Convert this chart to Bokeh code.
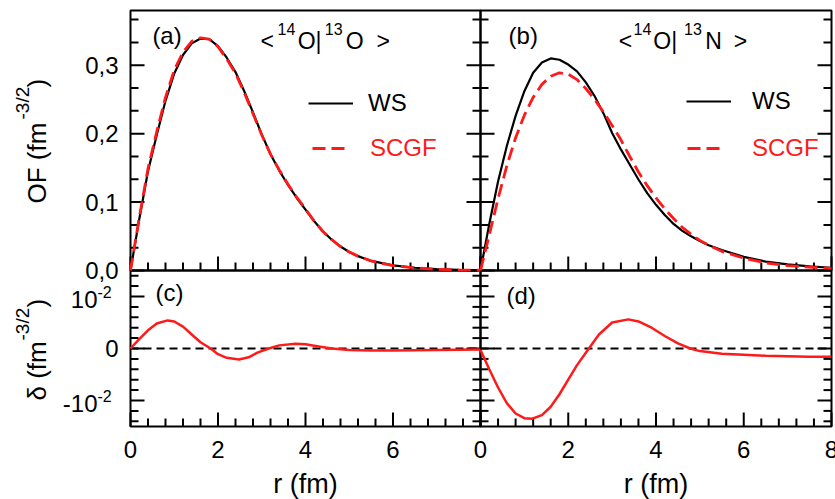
import numpy as np
from bokeh.plotting import figure
from bokeh.models import Range1d, Label, Legend, LegendItem
from bokeh.core.properties import value
from bokeh.embed import file_html
from bokeh.resources import INLINE

FONT = "Liberation Sans"

# ---- overlap functions OF(r) ----
r_of = [0.0, 0.2, 0.4, 0.6, 0.8, 1.0, 1.2, 1.4, 1.6, 1.8, 2.0, 2.2, 2.4, 2.6, 2.8,
        3.0, 3.2, 3.4, 3.6, 3.8, 4.0, 4.2, 4.4, 4.6, 4.8, 5.0, 5.2, 5.5, 6.0, 6.5,
        7.0, 7.5, 8.0]

# <14O|13O>
ws_o = [0.000, 0.075, 0.145, 0.198, 0.248, 0.288, 0.315, 0.332, 0.339, 0.338, 0.328,
        0.311, 0.290, 0.262, 0.231, 0.199, 0.170, 0.146, 0.125, 0.106, 0.089, 0.072,
        0.057, 0.045, 0.035, 0.027, 0.021, 0.014, 0.0075, 0.004, 0.002, 0.001, 0.0005]
scgf_o = [0.000, 0.077, 0.149, 0.203, 0.253, 0.293, 0.319, 0.335, 0.340, 0.338, 0.327,
          0.309, 0.288, 0.260, 0.229, 0.198, 0.170, 0.147, 0.126, 0.107, 0.090, 0.072,
          0.057, 0.045, 0.035, 0.027, 0.021, 0.014, 0.0072, 0.0037, 0.0018, 0.0009, 0.0004]

# <14O|13N>
ws_n = [0.000, 0.068, 0.130, 0.182, 0.226, 0.262, 0.289, 0.304, 0.310, 0.308, 0.301,
        0.291, 0.275, 0.255, 0.230, 0.201, 0.177, 0.155, 0.133, 0.113, 0.096, 0.081,
        0.068, 0.058, 0.050, 0.043, 0.037, 0.030, 0.020, 0.013, 0.009, 0.006, 0.004]
scgf_n = [0.000, 0.052, 0.105, 0.153, 0.194, 0.227, 0.253, 0.272, 0.284, 0.289, 0.287,
          0.279, 0.266, 0.250, 0.232, 0.212, 0.191, 0.167, 0.144, 0.124, 0.106, 0.090,
          0.076, 0.063, 0.053, 0.044, 0.037, 0.028, 0.018, 0.011, 0.007, 0.005, 0.003]

# ---- differences delta(r) ----
r_dc = [0.0, 0.2, 0.4, 0.6, 0.85, 1.0, 1.2, 1.4, 1.6, 1.83, 2.0, 2.2, 2.48, 2.7, 2.9,
        3.16, 3.4, 3.77, 4.0, 4.3, 4.6, 5.0, 5.5, 6.0, 7.0, 8.0]
delta_o = [0.0, 0.0018, 0.0035, 0.0048, 0.0054, 0.0052, 0.0042, 0.0027, 0.0012, 0.0,
           -0.0011, -0.0018, -0.0021, -0.0017, -0.0008, 0.0, 0.0006, 0.0009, 0.0008,
           0.0004, 0.0, -0.0003, -0.0004, -0.0004, -0.0003, -0.0002]

r_dd = [0.0, 0.2, 0.4, 0.6, 0.8, 1.0, 1.18, 1.4, 1.6, 1.8, 2.0, 2.2, 2.47, 2.7, 3.0,
        3.37, 3.6, 3.9, 4.2, 4.5, 4.78, 5.0, 5.5, 6.0, 6.5, 7.0, 7.5, 8.0]
delta_n = [-0.0003, -0.004, -0.0075, -0.0105, -0.0125, -0.0134, -0.0135, -0.0128,
           -0.0112, -0.0088, -0.0060, -0.0032, 0.0, 0.0027, 0.0050, 0.0056, 0.0052,
           0.0040, 0.0024, 0.0010, 0.0, -0.0005, -0.0010, -0.0012, -0.0014, -0.0015,
           -0.0016, -0.0016]

# ---- ticks and tick labels ----
x_major = [0, 2, 4, 6, 8]
x_minor = [0.4 * k for k in range(1, 20) if k % 5]
x_labels = ["0", "2", "4", "6", "8"]
of_major = [0.0, 0.1, 0.2, 0.3]
of_minor = [k / 30 for k in range(1, 12) if k % 3]
of_labels = ["0,0", "0,1", "0,2", "0,3"]
d_major = [-0.01, 0.0, 0.01]
d_minor = [0.002 * k for k in range(-7, 8) if k % 5]
d_labels = ["-10", "0", "10"]          # mantissa part
d_exponents = ["-2", "", "-2"]         # superscript part

X_RANGE = (0.0, 8.0)
OF_RANGE = (0.0, 0.38)
D_RANGE = (-0.015, 0.015)

WS_COLOR = "black"
SCGF_COLOR = "#ff1a1a"

# ---- page geometry (pixels) ----
PAGE_W, PAGE_H = 835, 499
COLS = {"left": (130, 480), "right": (480, 831)}          # frame x extents
ROWS = {"of": (PAGE_H - 270, PAGE_H - 10),                # frame y extents, y upward
        "delta": (PAGE_H - 426, PAGE_H - 270)}
MAJOR_LEN, MINOR_LEN = 14, 8


def page_range(a, b, dr, total):
    """Range that puts dr[0]..dr[1] on pixels a..b of a 0..total frame."""
    k = (dr[1] - dr[0]) / (b - a)
    return Range1d(dr[0] - a * k, dr[0] + (total - a) * k)


p = figure(width=PAGE_W, height=PAGE_H, x_range=Range1d(0, PAGE_W),
           y_range=Range1d(0, PAGE_H), x_axis_location=None, y_axis_location=None,
           output_backend="svg", toolbar_location=None, min_border=0)
p.grid.visible = False
p.outline_line_color = None
p.extra_x_ranges = {c: page_range(*COLS[c], X_RANGE, PAGE_W) for c in COLS}
p.extra_y_ranges = {"of": page_range(*ROWS["of"], OF_RANGE, PAGE_H),
                    "delta": page_range(*ROWS["delta"], D_RANGE, PAGE_H)}

Y_SPEC = {"of": (OF_RANGE, of_major, of_minor),
          "delta": (D_RANGE, d_major, d_minor)}
PANELS = [("left", "of"), ("right", "of"), ("left", "delta"), ("right", "delta")]


def px_x(col):
    return (X_RANGE[1] - X_RANGE[0]) / (COLS[col][1] - COLS[col][0])


def px_y(rw):
    yr = Y_SPEC[rw][0]
    return (yr[1] - yr[0]) / (ROWS[rw][1] - ROWS[rw][0])


def txt(s, x, y, size, col=None, rw=None, align="left", color="black", angle=0.0):
    """Text placed by the vertical middle of its em box."""
    kw = {}
    if col:
        kw["x_range_name"] = col
    if rw:
        kw["y_range_name"] = rw
    p.add_layout(Label(x=x, y=y, text=s, text_font=FONT, text_font_size=size,
                       text_color=color, text_align=align, text_baseline="middle",
                       angle=angle, **kw))


def texts(xs, ys, labels, size, align, names):
    p.text(x=xs, y=ys, text=labels, text_font=value(FONT), text_font_size=value(size),
           text_color="black", text_align=align, text_baseline="middle", **names)


# ---- frames and inward ticks ----
for col, rw in PANELS:
    yr, y_major, y_minor = Y_SPEC[rw]
    kx, ky = px_x(col), px_y(rw)
    names = dict(x_range_name=col, y_range_name=rw)
    p.quad(left=[X_RANGE[0]], right=[X_RANGE[1]], bottom=[yr[0]], top=[yr[1]],
           fill_color=None, line_color="black", line_width=2, **names)
    for vals, ln in ((y_major, MAJOR_LEN), (y_minor, MINOR_LEN)):
        for v in vals:
            p.line([X_RANGE[0], X_RANGE[0] + ln * kx], [v, v],
                   line_color="black", line_width=2, **names)
            p.line([X_RANGE[1], X_RANGE[1] - ln * kx], [v, v],
                   line_color="black", line_width=2, **names)
    for vals, ln in ((x_major, MAJOR_LEN), (x_minor, MINOR_LEN)):
        for v in vals:
            p.line([v, v], [yr[0], yr[0] + ln * ky],
                   line_color="black", line_width=2, **names)


# ---- curves ----
def draw_of(col, ws, scgf):
    r_ws = p.line(r_of, ws, line_color=WS_COLOR, line_width=2.2,
                  x_range_name=col, y_range_name="of")
    r_sc = p.line(r_of, scgf, line_color=SCGF_COLOR, line_width=2.8, line_dash="13 6",
                  x_range_name=col, y_range_name="of")
    return r_ws, r_sc


ws_a_r, sc_a_r = draw_of("left", ws_o, scgf_o)
ws_b_r, sc_b_r = draw_of("right", ws_n, scgf_n)

for col, r, d in (("left", r_dc, delta_o), ("right", r_dd, delta_n)):
    p.line(list(X_RANGE), [0, 0], line_color="black", line_width=2, line_dash="8 5",
           x_range_name=col, y_range_name="delta")
    p.line(r, d, line_color=SCGF_COLOR, line_width=2.5,
           x_range_name=col, y_range_name="delta")


# ---- tick labels and axis titles ----
def tick_labels(col, rw, y_labels=None, x_labels=None):
    yr, y_major, _ = Y_SPEC[rw]
    kx, ky = px_x(col), px_y(rw)
    names = dict(x_range_name=col, y_range_name=rw)
    if y_labels is not None:
        base, sup = y_labels
        if any(sup):
            # mantissa with a raised exponent
            x_end = X_RANGE[0] - 33 * kx
            texts([x_end if e else X_RANGE[0] - 12 * kx for e in sup],
                  [v - (3 * ky if e else 0) for v, e in zip(y_major, sup)],
                  base, "24px", "right", names)
            marked = [(v, e) for v, e in zip(y_major, sup) if e]
            texts([x_end] * len(marked), [v + 5 * ky for v, _ in marked],
                  [e for _, e in marked], "16px", "left", names)
        else:
            texts([X_RANGE[0] - 12 * kx] * len(y_major), y_major, base, "24px",
                  "right", names)
    if x_labels is not None:
        shown = [(v, s) for v, s in zip(x_major, x_labels) if s]
        texts([v for v, _ in shown], [yr[0] - 22.5 * ky] * len(shown),
              [s for _, s in shown], "24px", "center", names)
        txt("r (fm)", (X_RANGE[0] + X_RANGE[1]) / 2, yr[0] - 57 * ky, "27px",
            col=col, rw=rw, align="center")


tick_labels("left", "of", y_labels=(of_labels, [""] * len(of_labels)))
tick_labels("left", "delta", y_labels=(d_labels, d_exponents),
            x_labels=["0", "2", "4", "6", ""])
tick_labels("right", "delta", x_labels=x_labels)


def add_key(renderer, label, color, loc, glyph_w, standoff):
    p.add_layout(Legend(items=[LegendItem(label=label, renderers=[renderer])],
                        location=loc, glyph_width=glyph_w, glyph_height=20,
                        label_standoff=standoff, padding=0, margin=0, spacing=0,
                        border_line_color=None, background_fill_alpha=0,
                        label_text_font=FONT, label_text_font_size="24px",
                        label_text_color=color))


add_key(ws_a_r, "WS", "black", (308, 382), 45, 15)
add_key(sc_a_r, "SCGF", SCGF_COLOR, (312, 337), 38, 20)
add_key(ws_b_r, "WS", "black", (686, 384), 45, 21)
add_key(sc_b_r, "SCGF", SCGF_COLOR, (687, 337), 38, 27)

# panel tags
txt("(a)", 0.50, 0.343, "24px", "left", "of")
txt("(b)", 0.64, 0.343, "24px", "right", "of")
txt("(c)", 0.57, 0.0108, "24px", "left", "delta")
txt("(d)", 0.59, 0.0102, "24px", "right", "delta")

# bra-ket titles
for col, pieces in (
    ("left", [("<", 2.97, False), ("14", 3.36, True), ("O|", 3.82, False),
              ("13", 4.44, True), ("O", 4.92, False), (">", 5.62, False)]),
    ("right", [("<", 3.15, False), ("14", 3.49, True), ("O|", 3.94, False),
               ("13", 4.64, True), ("N", 5.12, False), (">", 5.77, False)]),
):
    for s, x, sup in pieces:
        if sup:
            txt(s, x, 0.353, "16px", col, "of")
        else:
            txt(s, x, 0.3357, "23px", col, "of")

# vertical axis titles (page pixels, y upward)
up = np.pi / 2
txt("OF (fm", 36, 296, "26px", angle=up)
txt("-3/2", 22, 380, "19px", angle=up)
txt(")", 36, 412, "26px", angle=up)
txt("\u03b4 (fm", 36, 99, "26px", angle=up)
txt("-3/2", 22, 159, "19px", angle=up)
txt(")", 36, 192, "26px", angle=up)

open("out.html", "w").write(file_html(p, INLINE))
